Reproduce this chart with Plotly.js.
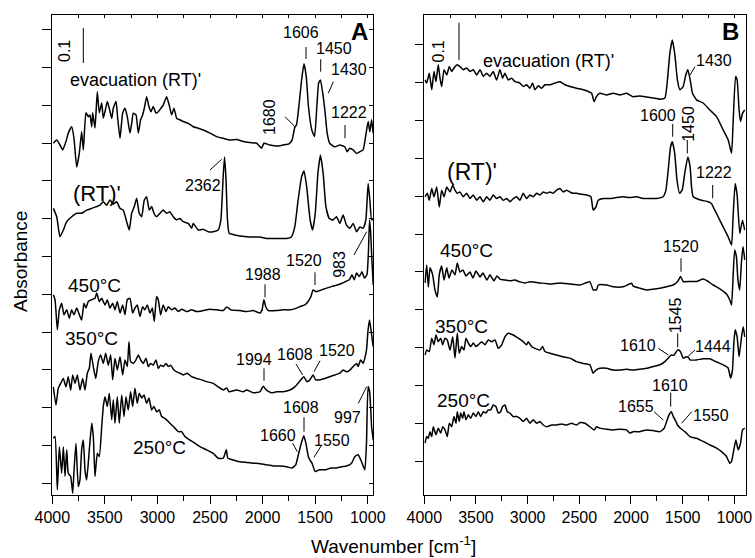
<!DOCTYPE html>
<html>
<head>
<meta charset="utf-8">
<script src="https://cdn.plot.ly/plotly-3.0.1.min.js"></script>
<style>html,body{margin:0;padding:0;background:#fff;}#chart{width:755px;height:558px;}</style>
</head>
<body>
<div id="chart"></div>
<script>
// ---------- DATA: [wavenumber (cm-1), absorbance relative to trace baseline] ----------
const A_evacuation = [[3990,0.002],[3958,0.011],[3927,-0.003],[3901,-0.017],[3870,0.007],[3848,0.031],[3816,0.049],[3794,0.017],[3768,-0.066],[3743,-0.026],[3721,0.035],[3705,-0.017],[3680,0.089],[3658,0.078],[3642,0.083],[3625,0.049],[3616,0.089],[3594,0.046],[3572,0.149],[3553,0.089],[3530,0.117],[3515,0.074],[3499,0.092],[3477,0.121],[3458,0.102],[3435,0.073],[3420,0.102],[3394,0.121],[3378,0.073],[3356,0.016],[3331,0.088],[3309,0.102],[3287,0.078],[3261,0.031],[3245,0.059],[3230,0.088],[3204,0.083],[3182,0.031],[3160,0.069],[3141,0.083],[3125,0.102],[3103,0.135],[3081,0.107],[3062,0.092],[3040,0.107],[3014,0.088],[2992,0.092],[2967,0.102],[2945,0.111],[2913,0.135],[2888,0.111],[2865,0.083],[2843,0.102],[2817,0.073],[2786,0.069],[2755,0.064],[2707,0.059],[2660,0.049],[2612,0.045],[2565,0.040],[2501,0.031],[2437,0.021],[2374,0.016],[2311,0.011],[2247,0.013],[2184,0.007],[2121,0.004],[2057,0.002],[2009,-0.012],[1988,0.002],[1931,-0.003],[1867,-0.006],[1804,-0.003],[1750,0],[1720,0.011],[1693,0.048],[1678,0.054],[1655,0.107],[1629,0.183],[1606,0.229],[1584,0.19],[1564,0.107],[1532,0.04],[1506,0.021],[1484,0.107],[1467,0.174],[1450,0.183],[1428,0.145],[1408,0.097],[1386,0.031],[1362,0.002],[1313,-0.008],[1265,-0.003],[1218,-0.008],[1196,-0.022],[1170,-0.012],[1139,-0.017],[1106,-0.027],[1075,-0.022],[1044,-0.017],[1018,0.026],[996,0.064],[980,0.035],[963,0.069],[948,0.031]];

const A_RT = [[3990,0.082],[3958,0.058],[3927,0.001],[3895,0.020],[3863,0.044],[3816,0.058],[3768,0.068],[3721,0.068],[3673,0.077],[3625,0.082],[3578,0.087],[3547,0.091],[3515,0.101],[3483,0.091],[3452,0.106],[3420,0.094],[3388,0.101],[3356,0.082],[3325,0.077],[3293,0.044],[3268,0.020],[3245,0.068],[3220,0.087],[3198,0.111],[3173,0.068],[3150,0.058],[3125,0.106],[3103,0.115],[3078,0.077],[3055,0.087],[3033,0.068],[3008,0.058],[2976,0.068],[2945,0.077],[2913,0.068],[2881,0.072],[2850,0.058],[2817,0.049],[2786,0.053],[2755,0.044],[2707,0.039],[2675,0.025],[2660,0.039],[2612,0.020],[2565,0.022],[2517,0.015],[2470,0.015],[2422,0.020],[2397,0.049],[2375,0.172],[2362,0.229],[2349,0.172],[2334,0.049],[2318,0.011],[2263,0.006],[2216,0.003],[2152,0.001],[2089,0],[2025,0],[1962,-0.004],[1899,-0.004],[1836,-0.004],[1772,-0.004],[1727,0],[1694,0.029],[1662,0.106],[1629,0.172],[1606,0.189],[1581,0.144],[1548,0.049],[1525,0.020],[1499,0.068],[1474,0.182],[1450,0.234],[1424,0.182],[1398,0.087],[1366,0.053],[1329,0.049],[1297,0.058],[1265,0.039],[1234,0.063],[1202,0.034],[1170,0.025],[1139,0.039],[1106,0.015],[1075,0.029],[1044,0.025],[1018,0.049],[996,0.153],[980,0.106],[963,0.049],[948,0.053]];

const A_450 = [[3990,0.043],[3974,0.029],[3952,-0.057],[3933,0],[3911,0.019],[3889,-0.014],[3863,0],[3838,-0.024],[3816,0],[3794,-0.014],[3768,0.005],[3743,-0.014],[3721,-0.029],[3699,0.019],[3680,0.005],[3658,0.024],[3625,0.029],[3594,0.033],[3578,0.048],[3553,0.024],[3530,0.033],[3499,0.014],[3477,0.029],[3452,0.005],[3426,0.019],[3404,0],[3382,0.024],[3356,-0.009],[3331,0.014],[3309,-0.014],[3287,0.029],[3261,0.033],[3236,-0.009],[3214,0.005],[3192,0.014],[3166,-0.019],[3141,0.009],[3119,0],[3097,0.014],[3071,-0.009],[3049,0.005],[3030,-0.033],[3008,0.038],[2992,0.029],[2970,-0.014],[2945,0.014],[2919,-0.005],[2897,0.009],[2865,0],[2834,0.005],[2802,-0.005],[2770,0.002],[2722,-0.005],[2675,0],[2627,-0.005],[2565,-0.002],[2501,0.002],[2437,0],[2374,-0.002],[2340,0.008],[2300,0],[2216,-0.002],[2152,-0.005],[2089,-0.002],[2025,-0.009],[2005,0],[1988,0.029],[1970,0.009],[1945,-0.002],[1867,-0.002],[1804,0],[1740,0],[1677,0.005],[1630,0.011],[1598,0.014],[1567,0.024],[1540,0.038],[1520,0.057],[1490,0.052],[1440,0.057],[1390,0.062],[1340,0.067],[1290,0.071],[1245,0.076],[1210,0.081],[1175,0.086],[1150,0.1],[1128,0.086],[1106,0.105],[1080,0.095],[1055,0.109],[1032,0.091],[1008,0.1],[994,0.162],[983,0.257],[972,0.22],[962,0.152],[948,0.071]];

const A_350 = [[3990,0.009],[3965,-0.043],[3943,0.005],[3920,0.019],[3895,0.033],[3870,0.009],[3848,0.038],[3825,0],[3806,0.043],[3784,0.019],[3762,0.043],[3737,0],[3711,0.033],[3689,0],[3667,0.048],[3648,0.062],[3632,0.105],[3610,0.067],[3587,0.033],[3563,0.081],[3540,0.1],[3515,0.076],[3492,0.105],[3468,0.071],[3445,0.1],[3426,0.029],[3404,0.091],[3382,0.057],[3356,0.095],[3331,0.043],[3309,0.086],[3287,0.067],[3271,0.138],[3255,0.081],[3230,0.076],[3204,0.086],[3182,0.1],[3160,0.086],[3135,0.076],[3109,0.091],[3087,0.067],[3065,0.076],[3040,0.071],[3014,0.086],[2992,0.062],[2970,0.071],[2945,0.067],[2919,0.076],[2897,0.067],[2874,0.071],[2843,0.057],[2817,0.052],[2786,0.048],[2755,0.043],[2717,0.048],[2675,0.038],[2627,0.033],[2580,0.029],[2532,0.024],[2470,0.019],[2422,0.009],[2374,0],[2340,0.006],[2320,-0.005],[2247,0],[2184,-0.005],[2152,0],[2089,-0.008],[2025,-0.005],[1994,0.011],[1965,0],[1914,-0.008],[1867,-0.005],[1804,-0.005],[1740,0],[1694,0.009],[1650,0.024],[1608,0.038],[1580,0.024],[1550,0.029],[1520,0.043],[1495,0.029],[1456,0.029],[1408,0.033],[1360,0.038],[1313,0.043],[1265,0.048],[1234,0.057],[1202,0.052],[1170,0.057],[1139,0.067],[1106,0.076],[1091,0.067],[1068,0.086],[1044,0.076],[1028,0.091],[1012,0.114],[997,0.171],[983,0.2],[965,0.162],[948,0.124]];

const A_250 = [[3990,0.076],[3974,0.081],[3952,-0.071],[3933,0.052],[3911,-0.024],[3895,0.052],[3879,-0.033],[3863,0.043],[3848,-0.024],[3825,-0.033],[3806,-0.081],[3794,-0.019],[3775,0.062],[3753,-0.062],[3737,-0.043],[3721,0.043],[3705,0.071],[3689,-0.014],[3673,-0.043],[3648,0.043],[3625,0.119],[3610,0.081],[3594,-0.033],[3572,0.033],[3553,0.024],[3530,0.109],[3515,0.167],[3499,0.195],[3477,0.167],[3458,0.205],[3435,0.129],[3420,0.186],[3404,0.119],[3382,0.195],[3363,0.119],[3340,0.2],[3318,0.138],[3299,0.195],[3278,0.157],[3255,0.209],[3236,0.167],[3214,0.219],[3192,0.176],[3173,0.205],[3150,0.191],[3128,0.2],[3103,0.176],[3081,0.191],[3055,0.157],[3033,0.167],[3008,0.152],[2983,0.157],[2960,0.138],[2929,0.133],[2897,0.124],[2865,0.114],[2834,0.105],[2802,0.095],[2770,0.095],[2739,0.081],[2691,0.071],[2644,0.062],[2597,0.052],[2532,0.043],[2470,0.033],[2422,0.019],[2374,0.019],[2345,0.043],[2330,0.019],[2279,0.014],[2216,0.009],[2152,0.007],[2089,0.005],[2025,0.003],[1962,0],[1899,-0.003],[1836,-0.003],[1772,-0.005],[1720,-0.009],[1685,0],[1660,0.029],[1632,0.062],[1608,0.083],[1588,0.062],[1565,0.024],[1550,0.014],[1530,0.005],[1500,-0.019],[1460,-0.014],[1400,-0.014],[1350,-0.009],[1300,-0.009],[1250,-0.005],[1202,-0.003],[1154,0.005],[1122,0.024],[1091,0.029],[1059,0.009],[1028,-0.014],[1012,0.062],[997,0.224],[982,0.209],[963,0.109],[948,0.071]];

const B_evacuation = [[3993,0.037],[3977,0.028],[3952,0.056],[3928,0.009],[3906,0.061],[3887,0.032],[3865,0.08],[3848,0.042],[3832,0.018],[3809,0.066],[3783,0.051],[3758,0.075],[3735,0.061],[3713,0.071],[3681,0.08],[3655,0.075],[3623,0.066],[3590,0.071],[3558,0.061],[3526,0.066],[3493,0.051],[3461,0.066],[3429,0.047],[3397,0.056],[3365,0.047],[3333,0.061],[3300,0.037],[3268,0.066],[3242,0.042],[3220,0.056],[3188,0.037],[3155,0.042],[3123,0.032],[3075,0.028],[3043,0.018],[3010,0.023],[2978,0.013],[2952,0.028],[2929,0.009],[2897,0.02],[2865,0.013],[2833,0.023],[2784,0.023],[2736,0.028],[2687,0.032],[2639,0.023],[2591,0.018],[2526,0.013],[2462,0.009],[2414,0.004],[2381,-0.001],[2356,-0.025],[2333,-0.01],[2301,-0.001],[2236,-0.006],[2172,-0.001],[2107,-0.006],[2043,-0.001],[1979,-0.011],[1914,-0.009],[1849,-0.012],[1785,-0.015],[1720,-0.018],[1672,-0.015],[1650,0.028],[1624,0.113],[1600,0.151],[1577,0.113],[1551,0.037],[1527,0.009],[1495,0.018],[1470,0.051],[1450,0.066],[1430,0.042],[1405,-0.001],[1366,-0.02],[1302,-0.029],[1237,-0.049],[1172,-0.068],[1108,-0.106],[1060,-0.134],[1027,-0.172],[1012,-0.087],[988,0.047],[973,0.037],[954,-0.049],[940,-0.082],[920,-0.058],[900,-0.049]];

const B_RT = [[3993,0.001],[3971,0.011],[3952,-0.009],[3928,0.025],[3906,0.001],[3880,0.029],[3855,-0.028],[3832,0.02],[3809,0.001],[3783,0.029],[3751,0.015],[3725,0.034],[3703,0.02],[3681,0.011],[3655,0.015],[3623,0.001],[3590,0.011],[3558,-0.004],[3526,0.006],[3493,-0.009],[3461,0.001],[3429,-0.013],[3397,0.001],[3365,-0.009],[3333,0.006],[3300,-0.004],[3268,0.001],[3236,-0.009],[3203,-0.004],[3171,-0.013],[3139,-0.004],[3106,0.001],[3075,-0.009],[3043,0.011],[3010,-0.004],[2978,0.006],[2946,0.001],[2913,0.011],[2881,0.006],[2849,0.015],[2816,0.011],[2784,0.015],[2752,0.011],[2720,0.02],[2688,0.025],[2656,0.015],[2623,0.02],[2575,0.012],[2526,0.011],[2478,0.008],[2429,0.006],[2388,0.001],[2366,-0.037],[2339,-0.028],[2317,-0.009],[2269,-0.004],[2204,-0.004],[2139,-0.001],[2075,0.001],[2011,-0.001],[1946,0.001],[1882,-0.004],[1817,-0.004],[1752,-0.004],[1689,0.001],[1662,0.02],[1640,0.077],[1617,0.144],[1600,0.158],[1577,0.125],[1555,0.049],[1530,0.011],[1505,0.02],[1480,0.068],[1450,0.115],[1428,0.087],[1414,0.029],[1399,0.001],[1366,-0.004],[1317,-0.009],[1253,-0.013],[1222,-0.018],[1189,-0.037],[1157,-0.056],[1108,-0.085],[1060,-0.113],[1027,-0.137],[1012,-0.056],[992,0.039],[973,0.006],[947,-0.104],[921,-0.066],[900,-0.094]];

const B_450 = [[3993,0.003],[3977,0.054],[3961,-0.009],[3945,0.046],[3919,0.026],[3897,-0.017],[3874,-0.037],[3855,0.026],[3832,0.051],[3809,0.011],[3783,0.046],[3761,0.017],[3732,0.04],[3703,0.026],[3681,0.06],[3655,0.034],[3626,0.04],[3597,0.023],[3558,0.034],[3529,0.017],[3500,0.037],[3461,0.02],[3432,0.031],[3394,0.011],[3365,0.026],[3326,0.009],[3297,0.023],[3268,0.014],[3220,0.011],[3171,0.009],[3123,0.011],[3075,0.006],[3026,0.003],[2978,0.006],[2881,0.003],[2784,0],[2688,0.003],[2591,0],[2494,-0.003],[2398,0.006],[2366,-0.017],[2333,-0.017],[2317,-0.003],[2236,-0.003],[2172,-0.008],[2075,-0.008],[1994,0.002],[1979,-0.006],[1914,-0.012],[1849,-0.017],[1785,-0.015],[1720,-0.012],[1656,-0.008],[1592,-0.003],[1549,0.007],[1520,0.021],[1495,0.007],[1430,0.007],[1366,0.007],[1302,0.014],[1253,0.007],[1205,-0.003],[1140,-0.014],[1076,-0.029],[1044,-0.046],[1027,-0.06],[1012,0.021],[997,0.097],[980,0.078],[965,0.011],[948,-0.017],[932,0.059],[916,0.107],[899,0.069]];

const B_350 = [[3993,0.037],[3977,0.051],[3952,0.047],[3928,0.085],[3906,0.066],[3887,0.094],[3865,0.075],[3841,0.085],[3822,0.066],[3800,0.085],[3778,0.08],[3751,0.051],[3725,0.089],[3703,0.028],[3681,0.099],[3662,0.042],[3638,0.061],[3616,0.051],[3597,0.085],[3574,0.071],[3551,0.061],[3526,0.071],[3500,0.061],[3478,0.066],[3445,0.075],[3413,0.066],[3381,0.08],[3348,0.075],[3316,0.08],[3284,0.056],[3251,0.066],[3220,0.089],[3188,0.099],[3139,0.094],[3091,0.085],[3043,0.075],[3010,0.066],[2994,0.075],[2961,0.061],[2929,0.056],[2881,0.051],[2855,0.061],[2833,0.047],[2784,0.042],[2720,0.037],[2656,0.032],[2591,0.028],[2526,0.018],[2462,0.013],[2398,0.009],[2366,-0.015],[2339,-0.006],[2301,-0.001],[2236,-0.001],[2172,-0.006],[2107,-0.006],[2043,-0.004],[1979,-0.006],[1914,-0.004],[1849,-0.001],[1785,0.004],[1720,0.009],[1672,0.018],[1640,0.028],[1610,0.037],[1585,0.036],[1565,0.045],[1545,0.052],[1520,0.046],[1495,0.028],[1465,0.032],[1444,0.03],[1430,0.023],[1366,0.023],[1302,0.026],[1237,0.026],[1172,0.017],[1108,0.009],[1060,0],[1037,-0.029],[1018,-0.006],[1005,0.071],[992,0.109],[973,0.089],[954,0.032],[930,0.089],[914,0.118],[899,0.089]];

const B_250 = [[3993,-0.038],[3977,-0.019],[3961,-0.024],[3945,-0.005],[3928,-0.019],[3913,0.009],[3887,-0.014],[3865,0.005],[3841,-0.009],[3822,0.009],[3800,0],[3778,-0.019],[3758,0.019],[3735,0.009],[3713,0.038],[3693,0.019],[3681,0.052],[3662,0.024],[3648,0.048],[3629,0.033],[3616,0.052],[3597,0.029],[3574,0.043],[3551,0.033],[3526,0.048],[3500,0.038],[3478,0.052],[3455,0.038],[3429,0.052],[3403,0.048],[3381,0.057],[3358,0.057],[3333,0.071],[3307,0.067],[3284,0.048],[3261,0.052],[3242,0.067],[3220,0.071],[3197,0.052],[3171,0.048],[3139,0.038],[3106,0.038],[3075,0.033],[3043,0.024],[3010,0.033],[2978,0.019],[2946,0.029],[2913,0.019],[2881,0.024],[2849,0.014],[2816,0.009],[2768,0.014],[2720,0.014],[2671,0.017],[2623,0.014],[2575,0.019],[2526,0.014],[2494,0.021],[2446,0.019],[2398,0.009],[2356,0],[2333,0.009],[2301,0.005],[2236,0.002],[2172,0],[2107,0.002],[2043,0],[2011,-0.009],[1979,-0.005],[1914,-0.005],[1849,0],[1785,-0.002],[1720,-0.005],[1680,0.004],[1655,0.024],[1632,0.043],[1610,0.052],[1590,0.038],[1565,0.024],[1550,0.014],[1520,0.004],[1479,-0.005],[1430,-0.019],[1366,-0.024],[1302,-0.033],[1237,-0.043],[1172,-0.052],[1124,-0.062],[1076,-0.076],[1044,-0.095],[1027,-0.09],[1005,-0.057],[985,-0.029],[963,-0.057],[940,-0.038],[921,0],[899,0.005]];

// vertical stacking offsets (absorbance) for each spectrum
const offsetsA = [1.003, 0.737, 0.529, 0.300, 0.086];
const offsetsB = [1.149, 0.851, 0.603, 0.363, 0.186];
const seriesA = [A_evacuation, A_RT, A_450, A_350, A_250];
const seriesB = [B_evacuation, B_RT, B_450, B_350, B_250];
const seriesNames = ["evacuation (RT)'", "(RT)'", "450°C", "350°C", "250°C"];
const xTickVals = [4000, 3500, 3000, 2500, 2000, 1500, 1000];

// ---------- helpers for page-pixel placement of text ----------
const W = 755, H = 558;
const X = px => px / W;
const Y = py => 1 - py / H;
const FONT = "Liberation Sans, Arial, Helvetica, sans-serif";

const traces = [];
function addSeries(list, offs, xa, ya) {
  list.forEach((s, i) => {
    traces.push({
      type: 'scatter', mode: 'lines',
      x: s.map(p => p[0]), y: s.map(p => p[1] + offs[i]),
      xaxis: xa, yaxis: ya, name: seriesNames[i],
      line: {color: '#000', width: 1.5, shape: 'spline', smoothing: 0.45},
      hoverinfo: 'skip', showlegend: false
    });
  });
}
addSeries(seriesA, offsetsA, 'x', 'y');
addSeries(seriesB, offsetsB, 'x2', 'y2');
// empty helper traces so that the overlay tick axes are drawn
[['x3','y'],['x','y3'],['x4','y2']].forEach(([xa, ya]) => traces.push({type:'scatter', mode:'lines', x:[], y:[], xaxis:xa, yaxis:ya, showlegend:false, hoverinfo:'skip'}));

const yRange = [0, 480/350];
const domY = [1 - 495/H, 1 - 15/H];
const domXA = [52.3/W, 373/W];
const domXB = [424.3/W, 745.7/W];

function xAxis(domain, range, anchor) {
  return {domain, range, anchor, tickmode:'array', tickvals:xTickVals, ticks:'outside', ticklen:8, tickwidth:1, tickcolor:'#000',
    showline:true, linecolor:'#000', linewidth:1, mirror:true, showgrid:false, zeroline:false,
    tickfont:{family:FONT, size:16, color:'#000'},
    minor:{tickmode:'linear', tick0:0, dtick:250, ticks:'outside', ticklen:5, tickwidth:1, tickcolor:'#000', showgrid:false}};
}
function topAxis(over, range, anchor) {
  return {overlaying:over, side:'top', range, anchor, tickmode:'linear', tick0:0, dtick:250, ticks:'inside', ticklen:3, tickwidth:1, tickcolor:'#000',
    showticklabels:false, showline:false, showgrid:false, zeroline:false};
}
function yAxis(anchor, tick0, dtick, len) {
  return {domain:domY, range:yRange, anchor, tickmode:'linear', tick0, dtick, ticks:'outside', ticklen:len, tickwidth:1, tickcolor:'#000',
    showticklabels:false, showline:true, linecolor:'#000', linewidth:1, mirror:true, showgrid:false, zeroline:false};
}

const ann = [];
function T(text, x, y, size, angle, extra) {
  ann.push(Object.assign({xref:'paper', yref:'paper', x:X(x), y:Y(y), text, showarrow:false,
    xanchor:'center', yanchor:'middle', textangle:angle||0, font:{family:FONT, size, color:'#000'}}, extra||{}));
}
// Panel A labels
T('0.1', 64, 51, 16, -90);
T("evacuation (RT)'", 135, 80, 18);
T('1606', 301, 33, 16);
T('1450', 333.5, 48, 16);
T('1430', 348.5, 70, 16);
T('1680', 269, 117, 16, -90);
T('1222', 348.5, 113, 16);
T('2362', 202.5, 185, 16);
T("(RT)'", 97, 193, 22);
T('<b>A</b>', 359, 32, 24);
T('1988', 262.8, 274, 16);
T('1520', 304, 260.7, 16);
T('983', 338.8, 264, 16, -90);
T('450°C', 94, 285, 19);
T('350°C', 91.7, 338.3, 19);
T('1994', 254, 359.3, 16);
T('1608', 295.3, 354, 16);
T('1520', 337.3, 350.7, 16);
T('1608', 300.8, 407.3, 16);
T('1660', 277.7, 435.7, 16);
T('1550', 331.7, 440, 16);
T('997', 347.8, 417.3, 16);
T('250°C', 159.7, 447.3, 19);
// Panel B labels
T('0.1', 437.5, 51, 16, -90);
T("evacuation (RT)'", 548.3, 61, 18);
T('1430', 713.8, 61, 16);
T('1600', 657.7, 115, 16);
T('1450', 687.8, 124, 16, -90);
T('1222', 714.3, 172.3, 16);
T("(RT)'", 472, 171.7, 23);
T('450°C', 466.7, 250, 19);
T('1520', 681, 246, 16);
T('350°C', 461.7, 326, 19);
T('1545', 675.5, 315.8, 16, -90);
T('1610', 638.3, 345, 16);
T('1444', 712.5, 346, 16);
T('250°C', 463.7, 400, 19);
T('1610', 670, 385, 16);
T('1655', 635.7, 406.7, 16);
T('1550', 711, 415, 16);
T('<b>B</b>', 730, 31.7, 24);
// axis titles
T('Absorbance', 20, 262, 19, -90);
T('Wavenumber [cm<sup>-1</sup>]', 393, 545, 19);

// leader lines and 0.1 scale bars (page pixels)
const leaders = [
  [83.3,28,83.3,63],[306,47,306,59],[320.7,59.3,320.7,71.7],[333.3,81.7,328.3,93.3],[285,116.7,295,126.7],
  [345,125,345,138.3],[210,170,221.7,159.3],[265,284.3,265,297.3],[315,272.3,315,285],[354,255,366.7,231.7],
  [264,368.3,264,380.7],[296,364,302.7,375],[320,360.7,314,371.7],[304,417.3,304,431.7],[292.7,443.3,297.3,451.7],
  [321.7,445,314,457.3],[358.3,403.3,366.7,386.7],
  [459,22.7,459,60],[695,66.7,690,75],[672.7,124,672.7,136.7],[687.3,140,687.3,153.3],[712.7,185,712.7,198.3],
  [681,258.3,681,271.7],[677.7,333.3,677.7,347.3],[658.3,348.3,668.3,355],[695,350,688.3,356],
  [670.7,392.7,670.7,406.7],[654,411.7,663.3,420],[691.7,411.7,681.7,423.3]
];
const shapes = leaders.map(l => ({type:'line', xref:'paper', yref:'paper', x0:X(l[0]), y0:Y(l[1]), x1:X(l[2]), y1:Y(l[3]), line:{color:'#000', width:1}}));

const layout = {
  width:W, height:H, autosize:false, margin:{l:0, r:0, t:0, b:0, pad:0},
  paper_bgcolor:'#fff', plot_bgcolor:'#fff', showlegend:false,
  font:{family:FONT, color:'#000'},
  xaxis: xAxis(domXA, [4000, 950], 'y'),
  xaxis2: xAxis(domXB, [4000, 890], 'y2'),
  xaxis3: topAxis('x', [4000, 950], 'y'),
  xaxis4: topAxis('x2', [4000, 890], 'y2'),
  yaxis: yAxis('x', 0.034, 0.1079, 9),
  yaxis2: yAxis('x2', 0.097, 0.1081, 8),
  yaxis3: {overlaying:'y', side:'right', anchor:'x', range:yRange, tickmode:'linear', tick0:0.034, dtick:0.1079, ticks:'inside', ticklen:4, tickwidth:1, tickcolor:'#000', showticklabels:false, showline:false, showgrid:false, zeroline:false},
  annotations: ann, shapes: shapes
};
Plotly.newPlot('chart', traces, layout, {staticPlot:true, displayModeBar:false});
</script>
</body>
</html>
